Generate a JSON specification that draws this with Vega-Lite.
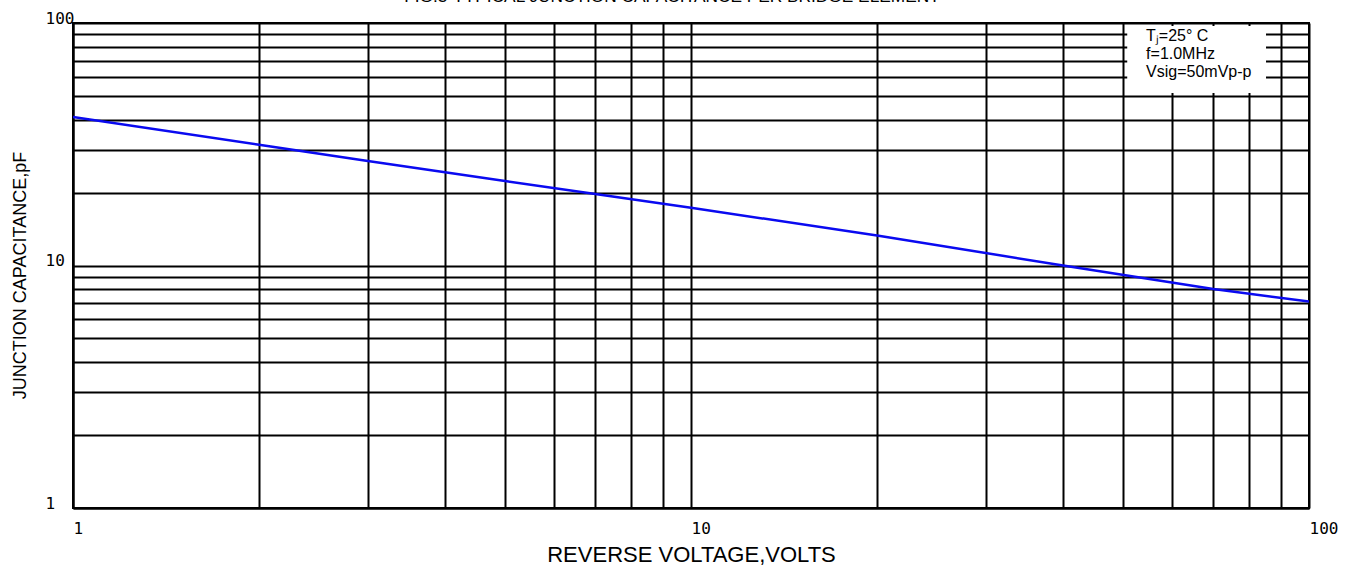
{
  "$schema": "https://vega.github.io/schema/vega-lite/v6.json",
  "width": 1236,
  "height": 485,
  "autosize": {"type": "none"},
  "padding": {"left": 73, "top": 23, "right": 44, "bottom": 62},
  "background": "white",
  "title": {
    "text": "FIG.3-TYPICAL JUNCTION CAPACITANCE PER BRIDGE ELEMENT",
    "font": "Liberation Sans",
    "fontSize": 17.3,
    "fontWeight": "normal",
    "color": "#000",
    "offset": 5,
    "dx": -19,
    "anchor": "middle"
  },
  "datasets": {
    "curve": [
      {"v": 1, "c": 41},
      {"v": 2, "c": 31.5},
      {"v": 3, "c": 27},
      {"v": 5, "c": 22.3},
      {"v": 7, "c": 19.7},
      {"v": 10, "c": 17.3},
      {"v": 20, "c": 13.3},
      {"v": 40, "c": 10},
      {"v": 70, "c": 8},
      {"v": 100, "c": 7.1}
    ],
    "box": [{"x1": 50.8, "x2": 85.2, "y1": 97.2, "y2": 51.4}],
    "notes": [
      {"v": 54.5, "c": 88.5, "t": "Tⱼ=25° C"},
      {"v": 54.5, "c": 74.5, "t": "f=1.0MHz"},
      {"v": 54.5, "c": 62.5, "t": "Vsig=50mVp-p"}
    ]
  },
  "config": {
    "view": {"stroke": "#000", "strokeWidth": 2},
    "axis": {
      "grid": true,
      "gridColor": "#000",
      "gridWidth": 2,
      "gridOpacity": 1,
      "domainColor": "#000",
      "domainWidth": 2,
      "ticks": false,
      "labelFont": "DejaVu Sans Mono",
      "labelFontSize": 16,
      "labelColor": "#000",
      "titleFont": "Liberation Sans",
      "titleFontWeight": "normal",
      "titleColor": "#000"
    }
  },
  "layer": [
    {
      "data": {"name": "box"},
      "mark": {"type": "rect", "fill": "white", "stroke": null},
      "encoding": {
        "x": {"field": "x1", "type": "quantitative", "scale": {"type": "log", "domain": [1, 100]}},
        "x2": {"field": "x2"},
        "y": {"field": "y1", "type": "quantitative", "scale": {"type": "log", "domain": [1, 100]}},
        "y2": {"field": "y2"}
      }
    },
    {
      "data": {"name": "curve"},
      "mark": {"type": "line", "color": "#0a0af0", "strokeWidth": 2.5, "clip": true},
      "encoding": {
        "x": {
          "field": "v",
          "type": "quantitative",
          "scale": {"type": "log", "domain": [1, 100], "nice": false},
          "axis": {
            "title": "REVERSE VOLTAGE,VOLTS",
            "titleFontSize": 22,
            "titlePadding": 8,
            "values": [1, 2, 3, 4, 5, 6, 7, 8, 9, 10, 20, 30, 40, 50, 60, 70, 80, 90, 100],
            "labelExpr": "datum.value == 1 || datum.value == 10 || datum.value == 100 ? format(datum.value, 'd') : ''",
            "labelAlign": "left",
            "labelBaseline": "top",
            "labelPadding": 12,
            "labelDx": -2,
            "labelFlush": false,
            "labelOverlap": false
          }
        },
        "y": {
          "field": "c",
          "type": "quantitative",
          "scale": {"type": "log", "domain": [1, 100], "nice": false},
          "axis": {
            "title": "JUNCTION CAPACITANCE,pF",
            "titleFontSize": 18,
            "titlePadding": 16,
            "titleY": 252,
            "values": [1, 2, 3, 4, 5, 6, 7, 8, 9, 10, 20, 30, 40, 50, 60, 70, 80, 90, 100],
            "labelExpr": "datum.value == 1 || datum.value == 10 || datum.value == 100 ? format(datum.value, 'd') : ''",
            "labelAlign": "left",
            "labelBaseline": "alphabetic",
            "labelPadding": 28,
            "labelFlush": false,
            "labelOverlap": false
          }
        }
      }
    },
    {
      "data": {"name": "notes"},
      "mark": {"type": "text", "align": "left", "baseline": "middle", "font": "Liberation Sans", "fontSize": 16, "color": "#000"},
      "encoding": {
        "x": {"field": "v", "type": "quantitative"},
        "y": {"field": "c", "type": "quantitative"},
        "text": {"field": "t"}
      }
    }
  ]
}
